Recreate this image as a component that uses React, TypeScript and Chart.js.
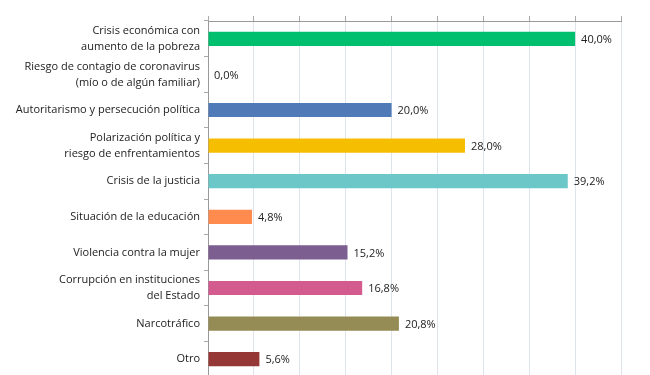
import React, { useEffect, useRef } from "react";
import { Chart, registerables } from "chart.js";

Chart.register(...registerables);

const categories: string[][] = [
  ["Crisis económica con", "aumento de la pobreza"],
  ["Riesgo de contagio de coronavirus", "(mío o de algún familiar)"],
  ["Autoritarismo y persecución política"],
  ["Polarización política y", "riesgo de enfrentamientos"],
  ["Crisis de la justicia"],
  ["Situación de la educación"],
  ["Violencia contra la mujer"],
  ["Corrupción en instituciones", "del Estado"],
  ["Narcotráfico"],
  ["Otro"],
];

const values: number[] = [40.0, 0.0, 20.0, 28.0, 39.2, 4.8, 15.2, 16.8, 20.8, 5.6];

const barColors: string[] = [
  "#00BF6F",
  "#4F79B7",
  "#4F79B7",
  "#F6BE00",
  "#6CC7C8",
  "#FF8B4F",
  "#7D5E91",
  "#D35B8E",
  "#958B55",
  "#953735",
];

const xMin = 0;
const xMax = 45;
const xStep = 5;

const FONT = "'Open Sans', sans-serif";

const valueLabels = {
  id: "valueLabels",
  afterDatasetsDraw(chart: any) {
    const ctx = chart.ctx;
    const meta = chart.getDatasetMeta(0);
    ctx.save();
    ctx.font = `11px ${FONT}`;
    ctx.fillStyle = "#222";
    ctx.textBaseline = "middle";
    ctx.textAlign = "left";
    meta.data.forEach((bar: any, i: number) => {
      const txt = values[i].toFixed(1).replace(".", ",") + "%";
      ctx.fillText(txt, bar.x + 6, bar.y + 1);
    });
    ctx.restore();
  },
};

export default function App() {
  const ref = useRef<HTMLCanvasElement | null>(null);
  useEffect(() => {
    if (!ref.current) return;
    const chart = new Chart(ref.current, {
      type: "bar",
      data: {
        labels: categories,
        datasets: [
          {
            data: values,
            backgroundColor: barColors,
            borderWidth: 0,
            barPercentage: 0.4,
            categoryPercentage: 1,
          },
        ],
      },
      options: {
        indexAxis: "y",
        animation: false,
        responsive: false,
        maintainAspectRatio: false,
        layout: { padding: { top: 0, right: 29, bottom: 0, left: 0 } },
        plugins: {
          legend: { display: false },
          tooltip: { enabled: false },
        },
        scales: {
          x: {
            position: "top",
            min: xMin,
            max: xMax,
            ticks: { display: false, stepSize: xStep },
            grid: {
              color: "#dde4ee",
              lineWidth: 1,
              tickColor: "#aaaaaa",
              tickLength: 5,
            },
            border: { color: "#999999" },
            afterFit: (s: any) => {
              s.height = 21;
              s.paddingLeft = 0;
              s.paddingRight = 0;
            },
          },
          y: {
            ticks: {
              color: "#222",
              font: { family: FONT, size: 11, lineHeight: 1.45 },
              padding: 4,
            },
            grid: {
              offset: true,
              drawOnChartArea: false,
              tickColor: "#aaaaaa",
              tickLength: 4,
            },
            border: { color: "#999999" },
            afterFit: (s: any) => {
              s.width = 208;
              s.paddingTop = 0;
              s.paddingBottom = 0;
            },
          },
        },
      },
      plugins: [valueLabels],
    });
    return () => chart.destroy();
  }, []);
  return (
    <div style={{ position: "fixed", top: 0, left: 0, width: 650, height: 377, background: "#fff" }}>
      <canvas ref={ref} width={650} height={377} style={{ width: 650, height: 377 }} />
    </div>
  );
}
